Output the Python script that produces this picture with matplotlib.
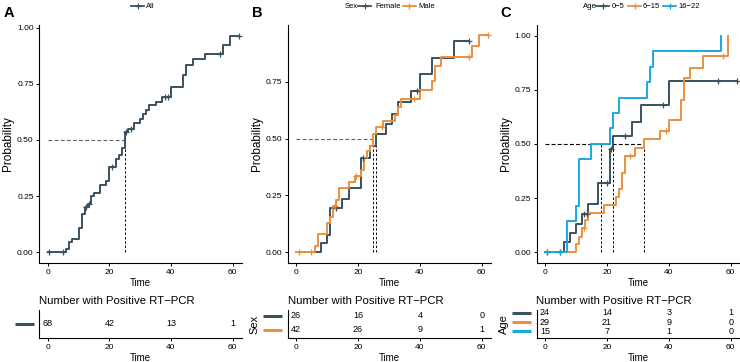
import numpy as np
import matplotlib
matplotlib.use("Agg")
import matplotlib.pyplot as plt
from matplotlib.lines import Line2D

plt.rcParams['font.family'] = ['Liberation Sans', 'DejaVu Sans']

dark = "#3A525E"
orange = "#EC8F3D"
blue = "#1BA8DF"

# ---- panel A : all ----
all_t = [0, 6, 7, 8, 10, 11, 12, 13, 14, 15, 17, 19, 20, 22, 23, 24, 25, 26, 28, 30,
         31, 32, 33, 35, 37, 40, 44, 45, 47, 51, 57, 59, 62]
all_p = [0, .015, .045, .06, .11, .17, .20, .215, .25, .265, .30, .315, .38, .415, .435,
         .465, .535, .55, .575, .595, .615, .635, .655, .67, .69, .737, .789, .835, .859,
         .883, .923, .964, .964]
all_cens = [0.5, 5, 12.5, 13.5, 21, 25.5, 27, 38, 39, 56, 62]
all_median = [25]
all_risk = [68, 42, 13, 1]

# ---- panel B : sex ----
fem_t = [0, 8, 10, 11, 15, 17, 21, 24, 26, 29, 31, 33, 37, 40, 44, 51, 56]
fem_p = [0, .04, .077, .194, .235, .282, .415, .466, .518, .566, .61, .66, .71, .785,
         .855, .93, .93]
fem_cens = [13, 21.5, 39, 56]
male_t = [0, 6, 7, 10, 11, 12, 13, 14, 17, 19, 21, 22, 23, 24, 25, 26, 28, 32, 33, 34,
          40, 44, 45, 47, 57, 59, 62]
male_p = [0, .028, .079, .128, .157, .204, .231, .282, .309, .334, .363, .415, .444,
          .469, .518, .551, .575, .605, .64, .672, .713, .753, .82, .857, .905, .956, .956]
male_cens = [1, 5, 12.5, 19.5, 27.7, 38, 56, 62]
sex_median = [25, 26]
sex_risk = {"Female": [26, 16, 4, 0], "Male": [42, 26, 9, 1]}

# ---- panel C : age ----
a05_t = [0, 6, 8, 10, 12, 14, 17, 21, 22, 28, 31, 40, 62]
a05_p = [0, .045, .088, .131, .176, .222, .322, .478, .535, .60, .68, .79, .79]
a05_cens = [0.5, 5, 12.6, 13.5, 20, 21.3, 26, 38, 56, 62]
a615_t = [0, 10, 11, 12, 13, 14, 19, 23, 24, 25, 26, 29, 32, 37, 40, 44, 45, 47, 51, 59]
a615_p = [0, .037, .072, .111, .149, .183, .219, .254, .293, .368, .445, .481, .522,
          .561, .612, .705, .805, .85, .905, 1.0]
a615_cens = [12.6, 27.5, 39, 57.5]
a1622_t = [0, 7, 10, 11, 15, 21, 22, 24, 33, 34, 35, 57]
a1622_p = [0, .142, .214, .43, .5, .573, .643, .712, .786, .858, .928, 1.0]
a1622_cens = [0.5, 5]
age_median = [18, 22, 32]
age_risk = {"0−5": [24, 14, 3, 1], "6−15": [29, 21, 9, 0], "16−22": [15, 7, 1, 0]}

risk_times = [0, 20, 40, 60]

W, H = 740, 362
fig = plt.figure(figsize=(W / 100, H / 100), dpi=100)


def box(left, top, width, height):
    return fig.add_axes([left / W, 1 - (top + height) / H, width / W, height / H])


def km(ax, t, p, cens, color):
    t = np.array(t, float)
    p = np.array(p, float)
    ax.step(t, p, where='post', color=color, lw=1.4, zorder=3)
    idx = np.searchsorted(t, cens, side='right') - 1
    ax.plot(cens, p[idx], ls='none', marker='+', ms=5, mew=0.9, color=color, zorder=4)


def medians(ax, meds, hcolor):
    ax.plot([0, max(meds)], [0.5, 0.5], ls=(0, (3.5, 2)), lw=0.8, color=hcolor, zorder=2)
    for m in meds:
        ax.plot([m, m], [0, 0.5], ls=(0, (2.5, 2)), lw=0.7, color='black', zorder=2)


def style(ax):
    ax.set_xlim(-2.75, 63)
    ax.set_xticks(risk_times)
    for s in ['top', 'right']:
        ax.spines[s].set_visible(False)
    for s in ['left', 'bottom']:
        ax.spines[s].set_linewidth(0.8)
    ax.tick_params(length=2.5, width=0.7, labelsize=6, pad=1.5)
    ax.set_xlabel('Time', fontsize=7, labelpad=1.5)


def style_main(ax, ylim, yticks):
    style(ax)
    ax.set_ylim(*ylim)
    ax.set_yticks(yticks)
    ax.set_yticklabels([f"{v:.2f}" for v in yticks])
    ax.set_ylabel('Probability', fontsize=8.5, labelpad=2)


def table(ax, rows, colors, label=None):
    style(ax)
    n = len(rows)
    ax.set_ylim(0.5 - 0.1 * (n - 1), n + 0.5 - 0.1 * (n - 1))
    ax.set_yticks([])
    for i, (vals, c) in enumerate(zip(rows, colors)):
        y = n - i
        for t, v in zip(risk_times, vals):
            ax.text(t, y, str(v), ha='center', va='center', fontsize=6.5)
        ax.plot([-0.12, -0.028], [y, y], color=c, lw=2.2, solid_capstyle='butt',
                transform=ax.get_yaxis_transform(), clip_on=False)
    if label:
        ax.text(-0.16, 0.5, label, rotation=90, ha='center', va='center', fontsize=8,
                transform=ax.transAxes)
    ax.set_title('Number with Positive RT−PCR', loc='left', fontsize=8.2, pad=4)


def legend(items, y=6):
    for kind, x, val in items:
        if kind == 'text':
            fig.text(x / W, 1 - y / H, val, fontsize=5.5, va='center', ha='left')
        else:
            fig.add_artist(Line2D([x / W, (x + 13) / W], [1 - y / H] * 2, color=val, lw=1.3))
            fig.add_artist(Line2D([(x + 6.5) / W], [1 - y / H], marker='+', ms=5,
                                  mew=0.9, color=val))


lefts = [39.2, 287.5, 536.5]
widths = [202.7, 203.5, 203.5]

# panel A
axA = box(lefts[0], 25, widths[0], 238)
km(axA, all_t, all_p, all_cens, dark)
medians(axA, all_median, '#666666')
style_main(axA, (-0.048, 1.012), [0, 0.25, 0.5, 0.75, 1.0])
tA = box(lefts[0], 310, widths[0], 28)
table(tA, [all_risk], [dark])

# panel B
axB = box(lefts[1], 25, widths[1], 238)
km(axB, fem_t, fem_p, fem_cens, dark)
km(axB, male_t, male_p, male_cens, orange)
medians(axB, sex_median, '#666666')
style_main(axB, (-0.047, 0.999), [0, 0.25, 0.5, 0.75])
tB = box(lefts[1], 310, widths[1], 28)
table(tB, list(sex_risk.values()), [dark, orange], 'Sex')

# panel C
axC = box(lefts[2], 25, widths[2], 238)
km(axC, a05_t, a05_p, a05_cens, dark)
km(axC, a615_t, a615_p, a615_cens, orange)
km(axC, a1622_t, a1622_p, a1622_cens, blue)
medians(axC, age_median, 'black')
style_main(axC, (-0.05, 1.05), [0, 0.25, 0.5, 0.75, 1.0])
tC = box(lefts[2], 310, widths[2], 28)
table(tC, list(age_risk.values()), [dark, orange, blue], 'Age')

legend([('line', 131, dark), ('text', 146, 'All')])
legend([('text', 345, 'Sex'), ('line', 358, dark), ('text', 375, 'Female'),
        ('line', 403, orange), ('text', 418, 'Male')])
legend([('text', 583, 'Age'), ('line', 596, dark), ('text', 612, '0−5'),
        ('line', 628, orange), ('text', 643, '6−15'), ('line', 663, blue),
        ('text', 678, '16−22')])

for x, s in [(4, 'A'), (252, 'B'), (500, 'C')]:
    fig.text(x / W, 1 - 13 / H, s, fontsize=10.5, fontweight='bold', va='center')

fig.savefig('out.png', dpi=100)
